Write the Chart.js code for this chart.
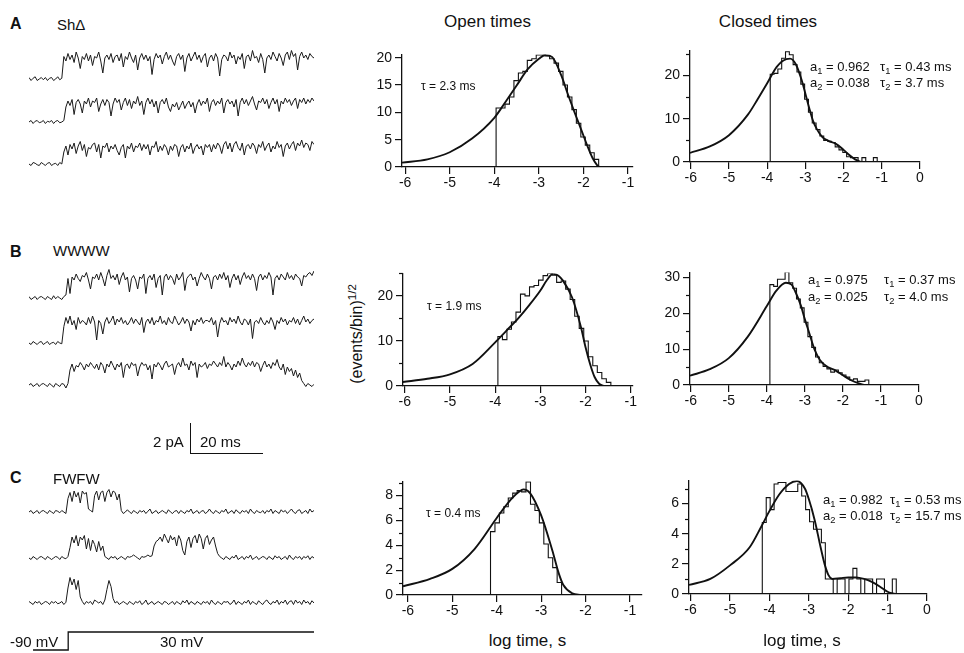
<!DOCTYPE html>
<html>
<head>
<meta charset="utf-8">
<script src="https://cdn.jsdelivr.net/npm/chart.js@4.4.0/dist/chart.umd.min.js"></script>
<style>
  html, body { margin: 0; padding: 0; background: #fff; }
  #fig { position: relative; width: 964px; height: 653px; overflow: hidden;
         font-family: "Liberation Sans", Arial, Helvetica, sans-serif; color: #111; }
  #fig canvas { position: absolute; }
  .t { position: absolute; white-space: nowrap; line-height: 1; }
  .t sub { font-size: 72%; vertical-align: -0.28em; line-height: 0; }
  .t sup { font-size: 72%; vertical-align: 0.55em; line-height: 0; }
  .bar { position: absolute; background: #111; }
</style>
</head>
<body>
<div id="fig"></div>
<script>
// ---------- axis ticks ----------
const ticksOpenX   = [-6, -5, -4, -3, -2, -1];
const ticksClosedX = [-6, -5, -4, -3, -2, -1, 0];
const yTicksOpenA   = [0, 5, 10, 15, 20];
const yTicksClosedA = [0, 10, 20];
const yMinorClosedA = [5, 15, 25];
const yTicksOpenB   = [0, 10, 20];
const yMinorOpenB   = [5, 15, 25];
const yTicksClosedB = [0, 10, 20, 30];
const yMinorClosedB = [5, 15, 25];
const yTicksOpenC   = [0, 2, 4, 6, 8];
const yMinorOpenC   = [1, 3, 5, 7, 9];
const yTicksClosedC = [0, 2, 4, 6];
const yMinorClosedC = [1, 3, 5, 7];

// ---------- dwell-time histograms: sqrt(events/bin) per 0.1 log-unit bin ----------
const binWidth = 0.1;

const openA_start = -3.96;
const openA_bins = [10.8, 10.8, 11.5, 12.8, 15.8, 17.2, 17.5, 19.5, 19.8, 20.5, 20.5, 20.3,
                    19.8, 19.0, 17.5, 15.0, 12.8, 10.5, 8.0, 5.5, 4.0, 2.6, 1.4];
const openA_fitX = [-6.07, -5.5, -5, -4.5, -4, -3.75, -3.5, -3.25, -3, -2.86, -2.7, -2.5,
                    -2.35, -2.2, -2.05, -1.9, -1.8, -1.7, -1.65];
const openA_fitY = [0.8, 1.4, 2.7, 5.2, 9.0, 11.9, 14.9, 17.9, 19.8, 20.5, 20.1, 16.8,
                    13.3, 10.0, 6.8, 3.6, 1.7, 0.4, 0];

const closedA_start = -3.92;
const closedA_bins = [20.3, 20.5, 21.5, 24.0, 25.5, 24.8, 22.5, 20.8, 18.0, 14.5, 11.5, 9.0,
                      7.5, 6.0, 5.0, 4.8, 4.5, 3.5, 2.8, 2.2, 1.2, 1.0, 1.0, 0, 1.0, 0, 0, 1.0];
const closedA_fitX = [-6.02, -5.5, -5, -4.5, -4.25, -4, -3.75, -3.5, -3.4, -3.25, -3.1, -3,
                      -2.9, -2.8, -2.7, -2.55, -2.4, -2.2, -2, -1.85, -1.7, -1.55];
const closedA_fitY = [2.1, 3.6, 6.2, 11.0, 14.5, 18.2, 22.0, 23.8, 23.9, 22.6, 19.0, 15.8,
                      12.5, 9.5, 7.6, 5.7, 4.9, 4.2, 2.8, 1.6, 0.6, 0];

const openB_start = -3.94;
const openB_bins = [11.0, 10.3, 12.6, 14.2, 16.4, 20.4, 20.0, 22.0, 22.3, 23.5, 24.5, 25.0,
                    24.6, 23.0, 23.3, 21.5, 19.2, 15.5, 12.8, 10.0, 6.5, 4.5, 3.0, 1.6, 0.8];
const openB_fitX = [-6.04, -5.5, -5, -4.5, -4, -3.75, -3.5, -3.25, -3, -2.85, -2.72, -2.6,
                    -2.5, -2.3, -2.1, -2, -1.9, -1.8, -1.7, -1.6];
const openB_fitY = [0.9, 1.6, 2.6, 4.9, 9.7, 12.3, 14.9, 17.9, 21.2, 23.6, 24.9, 24.5,
                    23.4, 19.7, 13.0, 8.6, 4.9, 2.0, 0.5, 0];

const closedB_start = -3.92;
const closedB_bins = [28.0, 27.5, 29.5, 29.5, 31.5, 28.5, 27.0, 24.0, 21.5, 17.5, 13.5, 10.5,
                      7.8, 6.2, 5.2, 4.5, 3.6, 4.2, 3.4, 2.8, 2.2, 1.4, 1.7, 1.0, 1.0, 1.4];
const closedB_fitX = [-6.02, -5.5, -5, -4.5, -4, -3.75, -3.5, -3.35, -3.25, -3.1, -3, -2.9,
                      -2.75, -2.6, -2.4, -2.2, -2, -1.8, -1.6, -1.45];
const closedB_fitY = [2.6, 4.4, 7.5, 13.5, 22.0, 26.3, 28.5, 28.0, 26.0, 22.0, 18.3, 15.0,
                      10.0, 6.9, 5.0, 4.1, 2.7, 1.4, 0.5, 0];

const openC_start = -4.14;
const openC_bins = [5.1, 5.8, 6.6, 7.1, 7.8, 8.2, 8.4, 8.3, 9.1, 7.3, 6.8, 5.8, 4.1, 3.0, 2.2, 1.0];
const openC_fitX = [-6.11, -5.5, -5, -4.5, -4, -3.75, -3.5, -3.4, -3.25, -3, -2.75, -2.6,
                    -2.5, -2.3, -2.1];
const openC_fitY = [0.7, 1.3, 2.1, 3.7, 6.2, 7.4, 8.3, 8.5, 8.2, 6.4, 3.6, 1.7, 0.8, 0.13, 0];

const closedC_start = -4.18;
const closedC_bins = [4.75, 6.4, 5.6, 7.3, 7.4, 7.4, 6.8, 6.8, 6.8, 7.3, 6.5, 5.6, 4.8, 4.3,
                      4.3, 3.4, 1.0, 1.0, 0, 1.0, 1.0, 0, 1.0, 1.7, 1.0, 0, 1.0, 1.0, 0,
                      1.0, 1.0, 0, 0, 1.0];
const closedC_fitX = [-6.04, -5.5, -5, -4.5, -4.2, -4, -3.75, -3.5, -3.3, -3.1, -3, -2.85,
                      -2.7, -2.6, -2.5, -2.4, -2.2, -2, -1.8, -1.6, -1.4, -1.2, -1, -0.9, -0.8];
const closedC_fitY = [0.6, 1.0, 1.9, 3.1, 4.5, 5.5, 6.6, 7.3, 7.5, 7.0, 6.3, 4.9,
                      3.1, 2.0, 1.25, 1.0, 1.05, 1.1, 1.1, 1.0, 0.8, 0.5, 0.15, 0.05, 0];

// ---------- single-channel current records (pA), 140 samples per sweep ----------
const traceA1 = [0.1,-0.1,0.05,0.15,-0.1,0,0.1,-0.05,0.1,-0.1,0.05,0.1,-0.1,0,0.15,-0.05,0.05,
  1.5,1.2,1.7,1.3,1.6,1.1,1.8,1.4,0.7,1.5, 1.3,1.7,1.2,1.6,0.9,1.5,1.4,1.8,1.2,0.4,
  1.4,1.6,1.3,1.7,1.1,1.5,1.6,1.2,1.7,0.8, 1.5,1.3,1.8,1.4,1.1,1.6,0.6,1.4,1.7,1.3,
  1.6,1.2,1.5,0.3,1.3,1.7,1.4,1.6,1.0,1.5, 1.8,1.3,1.6,1.2,0.9,1.5,1.7,1.3,1.6,0.5,
  1.4,1.7,1.2,1.5,1.8,1.3,1.6,1.1,1.5,1.7, 0.8,1.4,1.6,1.2,1.7,1.4,0.2,1.3,1.6,1.5,
  1.2,1.8,1.4,1.6,1.0,1.5,1.3,1.7,0.7,1.5, 1.6,1.2,1.9,1.4,1.5,1.1,1.7,1.3,0.4,1.4,
  1.6,1.3,1.8,1.5,1.2,1.7,1.4,0.9,1.6,1.8, 1.3,1.9,1.5,1.7,0.6,1.5,1.8,1.4,1.6,1.3,
  1.7,1.5,1.4];
const traceA2 = [0,0.1,-0.1,0.05,0.1,-0.05,0,0.1,-0.1,0.05,0,0.1,-0.1,0.05,0.1,-0.05,0,0.1,
  1.0,1.4,1.1,1.5,0.5,1.3,1.5,1.2,0.6,1.4, 1.2,1.6,1.0,1.4,1.3,1.6,0.7,1.2,1.5,1.1,
  1.5,1.3,0.4,1.2,1.6,1.3,1.5,0.8,1.3,1.6, 1.1,1.5,0.9,1.4,1.2,1.7,1.1,1.4,0.5,1.3,
  1.6,1.2,1.5,1.0,1.4,0.6,1.3,1.5,1.2,1.6, 1.0,0.7,1.2,1.0,1.3,0.8,1.1,1.4,0.9,1.2,
  1.4,1.0,1.3,0.6,1.2,1.5,1.1,1.4,1.2,1.6, 0.7,1.3,1.5,1.1,1.4,1.2,1.6,0.6,1.3,1.5,
  1.2,1.4,1.0,1.5,0.4,1.3,1.6,1.2,1.5,1.1, 1.4,1.7,1.2,0.8,1.4,1.3,1.6,1.2,1.5,0.9,
  1.3,1.6,1.2,1.5,0.7,1.4,1.2,1.6,1.3,1.5, 1.1,1.4,1.6,0.9,1.5,1.3,1.6,1.2,1.5,1.3,
  1.6,1.4];
const traceA3 = [0,-0.1,0.1,0.05,-0.05,-0.1,0.1,0,-0.1,0.05,0.1,-0.1,0,0.05,-0.1,0.1,0,
  0.8,1.2,0.6,1.3,1.0,1.4,0.7,1.2,1.5,0.9, 1.3,0.5,1.1,1.0,1.3,1.4,0.8,1.3,0.4,1.2,
  1.1,1.4,0.8,1.2,1.0,1.3,0.9,0.6,1.1,1.3, 0.4,1.2,1.0,1.4,0.8,1.2,1.1,1.4,0.9,1.3,
  1.0,1.3,0.6,1.2,1.1,1.5,0.8,1.2,0.9,1.3, 1.1,0.6,1.2,0.9,1.3,1.2,0.5,1.1,1.3,0.8,
  1.2,1.0,1.4,0.7,1.1,1.3,1.0,1.2,0.6,1.3, 1.1,1.3,0.8,1.3,1.0,1.4,1.2,0.7,1.3,1.5,
  1.0,1.4,0.8,1.3,1.5,1.1,0.9,1.4,0.6,1.2, 1.3,1.0,1.4,1.2,0.7,1.3,1.1,1.5,0.9,1.2,
  1.4,0.8,1.2,1.0,1.5,1.1,1.3,0.5,1.2,1.4, 1.0,1.3,1.5,0.9,1.4,1.2,1.6,1.1,1.4,1.3,
  0.9,1.5,1.3];

const traceB1 = [0.1,-0.1,0,0.1,-0.1,0.05,0.1,0,-0.1,0.1,0,-0.1,0.15,-0.05,0.1,0,-0.1,0.1,0.2,
  1.3,0.3,1.4,1.2,1.6,1.3,1.1,1.5,1.4,1.7, 1.2,0.6,1.4,1.3,1.6,1.2,1.7,1.3,0.8,1.5,
  1.9,1.3,1.5,1.2,1.6,0.9,1.4,1.7,1.2,1.4, 0.4,1.3,1.5,1.2,0.6,1.4,1.3,1.6,0.3,1.3,
  1.5,1.2,1.6,0.7,1.3,1.5,0.2,1.4,1.6,1.2, 1.5,1.3,0.9,1.6,1.2,1.4,1.7,0.5,1.3,1.5,
  1.6,1.2,1.4,0.8,1.3,1.7,1.4,1.2,1.6,1.3, 0.6,1.4,1.5,1.2,1.6,1.3,1.7,1.2,1.5,0.7,
  1.3,1.6,1.2,1.5,0.9,1.4,1.7,1.3,1.5,1.2, 1.6,1.3,0.5,1.4,1.6,1.2,1.5,1.3,1.7,1.4,
  0.2,1.3,1.5,1.2,1.6,1.4,1.2,1.7,1.3,1.5, 1.2,1.6,1.4,1.3,0.8,1.5,1.4,1.6,1.7,1.5,
  1.8];
const traceB2 = [0,-0.1,0.1,0,-0.1,0.05,0.1,-0.1,0,0.1,-0.1,0,0.05,-0.1,0.1,0,-0.05,
  1.1,1.7,1.3,1.8,1.2,1.5,0.9,1.7,1.3,1.5, 1.4,1.2,1.7,1.3,1.8,1.4,0.2,1.5,1.3,0.6,
  1.4,1.7,1.3,1.5,1.8,1.2,1.6,1.4,1.7,1.3, 1.5,1.2,1.4,1.7,1.3,1.6,1.4,1.2,1.7,0.7,
  1.4,1.6,1.3,1.7,1.2,1.5,1.4,1.8,1.3,1.5, 1.2,1.7,1.4,1.3,1.8,1.5,1.2,1.4,1.7,1.3,
  1.6,1.4,0.8,1.5,1.2,1.6,1.4,1.7,1.3,1.5, 1.5,1.4,1.7,1.2,1.5,0.4,1.3,1.7,1.4,1.5,
  1.2,1.7,1.4,1.6,1.3,1.8,1.4,1.2,1.6,1.5, 1.2,1.6,0.3,1.4,1.5,1.3,1.7,1.4,1.2,1.5,
  1.3,1.7,1.4,0.9,1.5,1.3,1.7,1.4,1.6,1.2, 1.5,1.4,1.7,1.3,1.6,1.2,1.5,1.8,1.4,1.6,
  1.3,1.5,1.6];
const traceB3 = [0,0.1,-0.1,0,0.1,-0.1,0.05,0.1,0,-0.1,0.1,0,-0.15,0.1,0,-0.1,0.1,0.05,-0.2,0.1,
  1.0,1.4,0.9,1.3,1.2,1.5,1.3,1.0,1.4,1.2, 1.5,1.3,1.1,1.4,1.0,1.5,1.3,0.8,1.4,1.2,
  1.6,1.3,1.0,1.4,1.2,1.5,0.5,1.3,1.4,1.1, 1.5,1.3,1.4,0.6,1.2,1.5,1.3,1.4,1.0,1.3,
  0.4,1.4,1.2,1.5,1.3,1.0,1.4,1.6,1.2,1.3, 1.4,0.7,1.3,1.5,1.2,1.8,1.3,1.4,1.0,1.6,
  1.3,1.5,0.5,1.4,1.2,1.3,1.5,1.1,1.4,1.3, 1.6,1.4,1.2,1.5,1.3,1.9,1.2,1.5,1.3,1.0,
  1.4,1.2,1.6,1.3,1.8,1.4,1.2,1.5,1.3,1.6, 1.2,1.5,1.4,0.9,1.3,1.6,1.2,1.4,1.1,1.5,
  1.3,1.7,1.2,1.0,1.4,0.7,1.2,0.9,1.1,0.6, 1.0,0.5,0.8,0.3,
  0.1,-0.1,0.1,0,-0.1,0.05];

const traceC1 = [0,0.1,-0.1,0,0.1,-0.1,0.05,0.1,0,-0.1,0.1,0,-0.1,0.1,0.05,-0.05,0.1,0,-0.1,
  0.9,1.3,0.7,1.4,1.0,1.3,0.6,1.4,1.2,1.3,
  0.2,0.1,0,
  1.1,1.4,0.8,1.3,1.4,0.7,1.3,1.5,1.0,1.4,1.3,0.8,1.2,
  0.1,-0.1,0,0.15,0,-0.1,0.1,0,-0.1,0.1, 0,0.1,-0.1,0.05,0.2,-0.1,0,0.1,-0.1,0,
  0.1,0,-0.1,0.15,0,-0.1,0.05,0.1,-0.1,0.1, 0,-0.1,0.1,0,0.2,-0.1,0,0.1,-0.1,0.05,
  0.1,-0.1,0,0.2,0,-0.1,0.1,0,-0.1,0.1, 0,0.2,-0.1,0,0.1,-0.1,0.15,0,-0.1,0.1,
  0,0.1,-0.1,0.2,0,-0.1,0.1,0,-0.05,0.1, -0.1,0.1,0,0.2,-0.1,0.1,0,-0.1,0.15,0,
  0.1,-0.1,0.05,0.2,0,-0.1,0.1,0.15,-0.1,0, 0.1,-0.1,0.2,0,0.1];
const traceC2 = [0,-0.1,0.1,0,-0.1,0.05,0.1,0,-0.1,0.1,0,-0.1,0,0.1,0.05,-0.1,0.1,0,-0.05,0.1,
  0.7,1.4,1.0,1.5,0.8,1.4,1.2,1.5,0.6,1.3,0.5,1.2,0.9,0.4,1.1,0.5,0.8,
  0.1,0,-0.1,0.1,0,0.1,-0.1,0,0.1,0,-0.1,0.1,0.05,0.1,0.2,0.1,0,-0.1,0.1,0.05,0.1,0.2,0.1,0.15,
  0.8,1.1,1.2,1.4,1.1,1.6,1.3,1.0,1.5,1.2,1.4,0.8,1.5,1.2,0.5,0.2,
  1.1,1.4,0.7,1.3,1.5,1.0,1.6,1.3,0.6,1.3,1.5,0.9,1.2,1.4,0.8,0.3,
  0.1,0,-0.1,0.1,0,-0.1,0.1,0,0.2,-0.1, 0,0.1,-0.1,0.1,0,0.2,-0.1,0,0.1,-0.1,
  0,0.1,0.05,-0.1,0.1,0,-0.1,0.15,0,0.1, -0.1,0,0.1,-0.1,0.2,0,-0.1,0.1,0,0.1,
  -0.1,0.1,0,0.15,-0.1,0.1,0];
const traceC3 = [0.1,0,-0.1,0.1,0,0.1,-0.1,0,0.1,0.05,-0.1,0.1,0,0.1,-0.05,0,0.1,-0.1,0.05,
  1.0,1.7,1.2,1.6,0.9,1.5,0.4,
  0.1,-0.1,0.1,0,0.1,-0.1,0.2,0.1,0,0.1,-0.1,0.2,
  0.9,1.5,1.1,0.3,
  0,0.1,-0.1,0,0.1,0,-0.1,0.1,0,-0.1, 0.1,0,0.15,-0.1,0,0.2,-0.1,0,0.1,-0.1,
  0,0.1,0,-0.1,0.1,0.05,-0.1,0,0.1,-0.1, 0.1,0,-0.1,0.15,0,0.2,-0.1,0.1,0,-0.1,
  0.1,0,-0.1,0.1,0,0.1,-0.1,0.2,0,-0.1, 0.1,0,-0.1,0.1,0.05,0.1,-0.1,0,0.2,-0.1,
  0.1,0,-0.1,0.1,0,0.2,-0.1,0.1,0,-0.1, 0.15,0,-0.1,0.1,0.2,0,-0.1,0.1,0,0.2,
  -0.1,0.1,0,0.2,-0.1,0.1,0.15,-0.1,0.2,0, 0.1,-0.1,0.2,0,0.1,-0.1,0.15,0];

// ---------- voltage protocol ----------
const protocolTimeMs = [1.1, 10.7, 77.8];
const protocolMv = [-90, 30, 30];

// ================= drawing =================
const FONT = '"Liberation Sans", Arial, Helvetica, sans-serif';
const INK = '#111';
Chart.defaults.font.family = FONT;
Chart.defaults.color = INK;

const fig = document.getElementById('fig');

function addCanvas(left, top, w, h) {
  const c = document.createElement('canvas');
  c.width = w; c.height = h;
  c.style.left = left + 'px'; c.style.top = top + 'px';
  c.style.width = w + 'px'; c.style.height = h + 'px';
  fig.appendChild(c);
  return c;
}

function text(html, x, baseline, size, opt = {}) {
  const d = document.createElement('div');
  d.className = 't';
  d.innerHTML = html;
  d.style.fontSize = size + 'px';
  d.style.left = x + 'px';
  d.style.top = (baseline - 0.85 * size) + 'px';
  if (opt.bold) d.style.fontWeight = 'bold';
  if (opt.center) d.style.transform = 'translateX(-50%)';
  fig.appendChild(d);
  return d;
}

function bar(left, top, w, h) {
  const d = document.createElement('div');
  d.className = 'bar';
  d.style.left = left + 'px'; d.style.top = top + 'px';
  d.style.width = w + 'px'; d.style.height = h + 'px';
  fig.appendChild(d);
}

// short unlabelled ticks on the y axis
const minorTicks = {
  id: 'minorTicks',
  afterDraw(chart, args, opts) {
    const ys = chart.scales.y, ctx = chart.ctx;
    ctx.save();
    ctx.strokeStyle = INK; ctx.lineWidth = 1.2;
    (opts.values || []).forEach(v => {
      const py = Math.round(ys.getPixelForValue(v)) + 0.5;
      ctx.beginPath(); ctx.moveTo(ys.right - 4, py); ctx.lineTo(ys.right, py); ctx.stroke();
    });
    ctx.restore();
  }
};

function histPanel(p) {
  const padL = 38, padR = 14, padT = 10, padB = 26;
  const w = p.right - p.left, h = p.bottom - p.top;
  const cv = addCanvas(p.left - padL, p.top - padT, w + padL + padR, h + padT + padB);

  // stepped outline over the bins (each bin spans its left edge to the next), closed to zero
  const outline = [{ x: p.binStart, y: 0 }];
  p.bins.forEach((v, i) => outline.push({ x: p.binStart + (i + 1) * binWidth, y: v }));
  outline.push({ x: p.binStart + p.bins.length * binWidth, y: 0 });
  const fit = p.fitX.map((x, i) => ({ x, y: p.fitY[i] }));

  const tickStyle = { color: INK, font: { size: 14, family: FONT } };
  new Chart(cv, {
    type: 'line',
    data: { datasets: [
      { data: outline, stepped: 'after', borderColor: INK, borderWidth: 1.1,
        pointRadius: 0, fill: false },
      { data: fit, cubicInterpolationMode: 'monotone', borderColor: INK, borderWidth: 1.9,
        pointRadius: 0, fill: false }
    ] },
    options: {
      responsive: false, animation: false, events: [],
      layout: { padding: { left: 0, right: padR, top: padT, bottom: 0 } },
      plugins: { legend: { display: false }, tooltip: { enabled: false },
                 minorTicks: { values: p.yMinor } },
      scales: {
        x: {
          type: 'linear', min: p.xMin, max: p.xMax,
          afterFit: s => { s.height = padB; },
          afterBuildTicks: s => { s.ticks = p.xTicks.map(v => ({ value: v })); },
          grid: { drawOnChartArea: false, tickLength: 7, color: INK, lineWidth: 1.2 },
          border: { color: INK, width: 1.3 },
          ticks: Object.assign({ padding: 1, maxRotation: 0, autoSkip: false,
                                 callback: (v, i) => String(p.xTicks[i]) }, tickStyle)
        },
        y: {
          type: 'linear', min: 0, max: p.yMax,
          afterFit: s => { s.width = padL; },
          afterBuildTicks: s => { s.ticks = p.yTicks.map(v => ({ value: v })); },
          grid: { drawOnChartArea: false, tickLength: 7, color: INK, lineWidth: 1.2 },
          border: { color: INK, width: 1.3 },
          ticks: Object.assign({ padding: 3, autoSkip: false,
                                 callback: (v, i) => String(p.yTicks[i]) }, tickStyle)
        }
      }
    },
    plugins: [minorTicks]
  });
}

const panels = [
  { left: 402, right: 633, top: 53, bottom: 167, xMin: -6.07, xMax: -0.89, yMax: 20.6,
    xTicks: ticksOpenX, yTicks: yTicksOpenA, yMinor: [],
    bins: openA_bins, binStart: openA_start, fitX: openA_fitX, fitY: openA_fitY },
  { left: 690, right: 920, top: 49, bottom: 162, xMin: -6.02, xMax: 0, yMax: 25.8,
    xTicks: ticksClosedX, yTicks: yTicksClosedA, yMinor: yMinorClosedA,
    bins: closedA_bins, binStart: closedA_start, fitX: closedA_fitX, fitY: closedA_fitY },
  { left: 403, right: 633, top: 272, bottom: 386, xMin: -6.04, xMax: -0.95, yMax: 25,
    xTicks: ticksOpenX, yTicks: yTicksOpenB, yMinor: yMinorOpenB,
    bins: openB_bins, binStart: openB_start, fitX: openB_fitX, fitY: openB_fitY },
  { left: 690, right: 919, top: 271, bottom: 385, xMin: -6.02, xMax: 0, yMax: 31.4,
    xTicks: ticksClosedX, yTicks: yTicksClosedB, yMinor: yMinorClosedB,
    bins: closedB_bins, binStart: closedB_start, fitX: closedB_fitX, fitY: closedB_fitY },
  { left: 403, right: 642, top: 480, bottom: 595, xMin: -6.11, xMax: -0.73, yMax: 9.14,
    xTicks: ticksOpenX, yTicks: yTicksOpenC, yMinor: yMinorOpenC,
    bins: openC_bins, binStart: openC_start, fitX: openC_fitX, fitY: openC_fitY },
  { left: 689, right: 927, top: 479, bottom: 594, xMin: -6.04, xMax: 0, yMax: 7.54,
    xTicks: ticksClosedX, yTicks: yTicksClosedC, yMinor: yMinorClosedC,
    bins: closedC_bins, binStart: closedC_start, fitX: closedC_fitX, fitY: closedC_fitY }
];
panels.forEach(histPanel);

// current sweeps: 15 px per pA, each sweep spans x = 29..313
function sweep(values, baselineY) {
  const yMin = -0.6, yMax = 2.2, pxPerPa = 15;
  const cv = addCanvas(29, Math.round(baselineY - yMax * pxPerPa), 285, Math.round((yMax - yMin) * pxPerPa));
  new Chart(cv, {
    type: 'line',
    data: { labels: values.map((_, i) => i),
            datasets: [{ data: values, borderColor: '#1a1a1a', borderWidth: 1, pointRadius: 0,
                         tension: 0, fill: false }] },
    options: {
      responsive: false, animation: false, events: [],
      layout: { padding: 0 },
      plugins: { legend: { display: false }, tooltip: { enabled: false } },
      scales: {
        x: { type: 'category', display: false, offset: false },
        y: { display: false, min: yMin, max: yMax }
      }
    }
  });
}
sweep(traceA1, 79); sweep(traceA2, 122); sweep(traceA3, 164);
sweep(traceB1, 298); sweep(traceB2, 343); sweep(traceB3, 385);
sweep(traceC1, 512); sweep(traceC2, 558); sweep(traceC3, 603);

// voltage step under the sweeps
(function () {
  const cv = addCanvas(29, 626, 285, 30);
  new Chart(cv, {
    type: 'line',
    data: { datasets: [{ data: protocolTimeMs.map((t, i) => ({ x: t, y: protocolMv[i] })),
                         stepped: 'before', borderColor: INK, borderWidth: 1.3, pointRadius: 0 }] },
    options: {
      responsive: false, animation: false, events: [],
      layout: { padding: 0 },
      plugins: { legend: { display: false }, tooltip: { enabled: false } },
      scales: {
        x: { type: 'linear', display: false, min: 0, max: 77.8 },
        y: { display: false, min: -130, max: 70 }
      }
    }
  });
})();

// scale bar
bar(190, 423, 1.4, 31);
bar(190, 453, 73, 1.4);

// ---------- text ----------
text('Open times', 487.5, 27, 17, { center: true });
text('Closed times', 768, 27, 17, { center: true });

text('A', 10, 30, 16, { bold: true });
text('Sh&Delta;', 57, 30, 15);
text('B', 10, 258, 16, { bold: true });
text('WWWW', 53, 256, 15);
text('C', 10, 484, 16, { bold: true });
text('FWFW', 53, 484, 15);

text('&tau; = 2.3 ms', 421, 90, 12);
text('&tau; = 1.9 ms', 427, 310, 12);
text('&tau; = 0.4 ms', 426, 517, 12);

text('a<sub>1</sub> = 0.962', 810, 71, 13);
text('&tau;<sub>1</sub> = 0.43 ms', 880, 71, 13);
text('a<sub>2</sub> = 0.038', 810, 87, 13);
text('&tau;<sub>2</sub> = 3.7 ms', 880, 87, 13);

text('a<sub>1</sub> = 0.975', 808, 284, 13);
text('&tau;<sub>1</sub> = 0.37 ms', 884, 284, 13);
text('a<sub>2</sub> = 0.025', 808, 301, 13);
text('&tau;<sub>2</sub> = 4.0 ms', 884, 301, 13);

text('a<sub>1</sub> = 0.982', 823, 504, 13);
text('&tau;<sub>1</sub> = 0.53 ms', 890, 504, 13);
text('a<sub>2</sub> = 0.018', 823, 520, 13);
text('&tau;<sub>2</sub> = 15.7 ms', 890, 520, 13);

text('log time, s', 527.5, 646, 17, { center: true });
text('log time, s', 802, 646, 17, { center: true });

text('2 pA', 153, 447, 15);
text('20 ms', 200, 447, 15);
text('-90 mV', 10, 647, 15);
text('30 mV', 160, 647, 15);

// rotated y-axis title
(function () {
  const d = document.createElement('div');
  d.className = 't';
  d.innerHTML = '(events/bin)<sup>1/2</sup>';
  d.style.fontSize = '16px';
  d.style.left = '357px';
  d.style.top = '334px';
  d.style.transform = 'translate(-50%, -50%) rotate(-90deg)';
  fig.appendChild(d);
})();
</script>
</body>
</html>
